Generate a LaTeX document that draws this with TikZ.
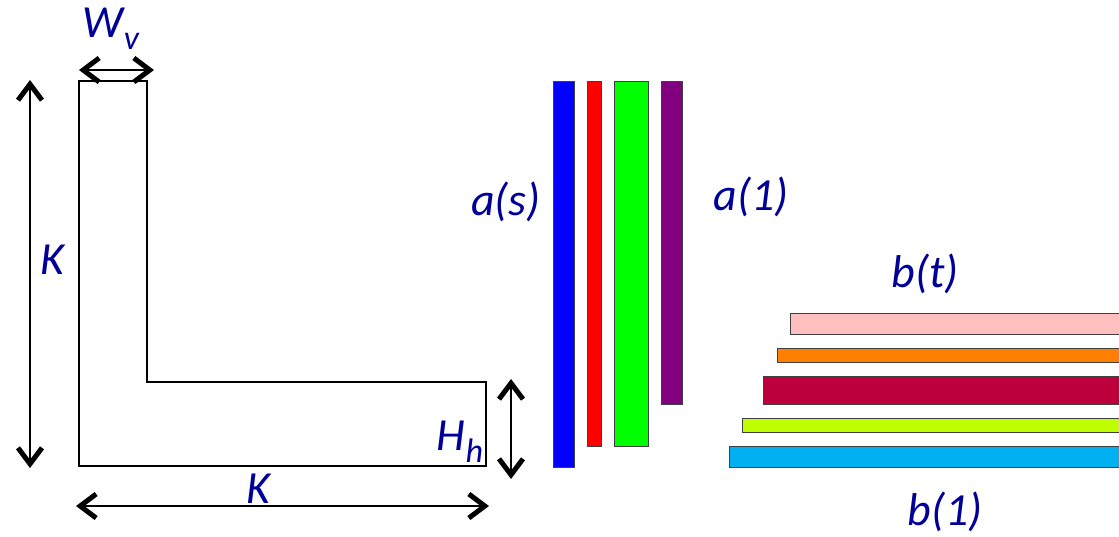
\documentclass[tikz,border=0pt]{standalone}
\usepackage{fontspec}
\setmainfont{Carlito}
\usetikzlibrary{arrows.meta}
\definecolor{txt}{HTML}{000099}
\definecolor{cblue}{HTML}{0000FF}
\definecolor{cred}{HTML}{FF0000}
\definecolor{cgreen}{HTML}{00FF00}
\definecolor{cpurple}{HTML}{800080}
\definecolor{cpink}{HTML}{FFBFBF}
\definecolor{corange}{HTML}{FF8000}
\definecolor{ccrimson}{HTML}{BE003C}
\definecolor{clime}{HTML}{BFFF00}
\definecolor{ccyan}{HTML}{00B0F0}
\definecolor{bord}{HTML}{404040}
\tikzset{
  lbl/.style={text=txt, font=\fontsize{46}{50}\selectfont\itshape, anchor=base, inner sep=0pt},
  dimarrow/.style={line width=2.5pt, {Straight Barb[length=16pt,width=24pt,line width=5pt]}-{Straight Barb[length=16pt,width=24pt,line width=5pt]}},
  bar/.style={draw=bord, line width=1pt},
  lshape/.style={draw=black, line width=2pt, line join=miter}
}
\newcommand{\subtxt}[1]{{\fontsize{34}{36}\selectfont\raisebox{-12pt}{#1}}}
\begin{document}
\begin{tikzpicture}[x=1pt,y=-1pt]
\useasboundingbox (0,0) rectangle (1119,536);
\clip (0,0) rectangle (1119,536);
% L shape
\draw[lshape] (79,81) -- (147,81) -- (147,382) -- (486,382) -- (486,466) -- (79,466) -- cycle;
% dimension arrows
\coordinate (wv1) at (79,70); \coordinate (wv2) at (154,70);
\coordinate (kv1) at (30,80); \coordinate (kv2) at (30,468);
\coordinate (kh1) at (76,506); \coordinate (kh2) at (489,506);
\coordinate (hh1) at (511,379); \coordinate (hh2) at (511,479);
\draw[dimarrow] (wv1) -- (wv2);
\draw[dimarrow] (kv1) -- (kv2);
\draw[dimarrow] (kh1) -- (kh2);
\draw[dimarrow] (hh1) -- (hh2);
% labels
\node[lbl] (Wv) at (111,37) {W\subtxt{v}};
\node[lbl] (Kl) at (52,274) {K};
\node[lbl] (Kb) at (258,503) {K};
\node[lbl] (Hh) at (460,450) {H\subtxt{h}};
\node[lbl] (as) at (506,215) {a(s)};
\node[lbl] (a1) at (751,210) {a(1)};
\node[lbl] (bt) at (925,287) {b(t)};
\node[lbl] (b1) at (945,525) {b(1)};
% vertical bars
\fill[bar, fill=cblue] (553,81) rectangle (574,467);
\fill[bar, fill=cred] (587,81) rectangle (601,446);
\fill[bar, fill=cgreen] (614,81) rectangle (648,446);
\fill[bar, fill=cpurple] (661,81) rectangle (682,404);
% horizontal bars
\fill[bar, fill=cpink] (790,313) rectangle (1125,334);
\fill[bar, fill=corange] (777,348) rectangle (1125,362);
\fill[bar, fill=ccrimson] (763,376) rectangle (1125,404);
\fill[bar, fill=clime] (742,418) rectangle (1125,432);
\fill[bar, fill=ccyan] (729,446) rectangle (1125,467);
\end{tikzpicture}
\end{document}
